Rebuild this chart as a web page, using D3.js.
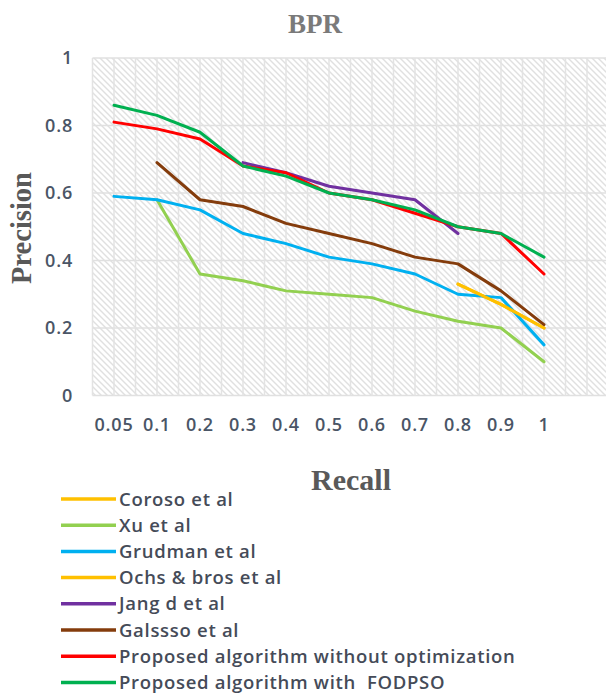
<!DOCTYPE html>
<html><head><meta charset="utf-8">
<script src="https://cdn.jsdelivr.net/npm/d3@7"></script>
<style>body{margin:0;background:#fff}svg{display:block}</style>
</head><body>
<script>
const categories = ["0.05","0.1","0.2","0.3","0.4","0.5","0.6","0.7","0.8","0.9","1"];
const yTicks = [0, 0.2, 0.4, 0.6, 0.8, 1];
const seriesNames = ["Coroso et al","Xu et al","Grudman et al","Ochs & bros et al","Jang d et al","Galssso et al","Proposed algorithm without optimization","Proposed algorithm with  FODPSO"];
const seriesColors = ["#FFC000","#92D050","#00B0F0","#FFC000","#7030A0","#843C0C","#FF0000","#00B050"];
const coroso  = [null,null,null,null,null,null,null,null,0.33,0.27,0.20];
const xu      = [null,0.58,0.36,0.34,0.31,0.30,0.29,0.25,0.22,0.20,0.10];
const grudman = [0.59,0.58,0.55,0.48,0.45,0.41,0.39,0.36,0.30,0.29,0.15];
const ochs    = [null,null,null,null,null,null,null,null,0.33,0.27,0.20];
const jang    = [null,null,null,0.69,0.66,0.62,0.60,0.58,0.48,null,null];
const galssso = [null,0.69,0.58,0.56,0.51,0.48,0.45,0.41,0.39,0.31,0.21];
const propNoOpt = [0.81,0.79,0.76,0.68,0.66,0.60,0.58,0.54,0.50,0.48,0.36];
const propFodpso = [0.86,0.83,0.78,0.68,0.65,0.60,0.58,0.55,0.50,0.48,0.41];
const seriesValues = [coroso, xu, grudman, ochs, jang, galssso, propNoOpt, propFodpso];

(function(){
const W = 606, H = 695;
const svg = d3.select("body").append("svg").attr("width", W).attr("height", H);

const pLeft = 92.5, bandW = 43, pTop = 58, pBottom = 395.5, pRight = 606;
const x = d3.scaleBand().domain(categories).range([pLeft, pLeft + bandW * categories.length]).paddingInner(0).paddingOuter(0);
const y = d3.scaleLinear().domain([0, 1]).range([pBottom, pTop]);

// hatch pattern
const defs = svg.append("defs");
const pat = defs.append("pattern").attr("id","hatch").attr("patternUnits","userSpaceOnUse")
  .attr("width",6).attr("height",6);
pat.append("rect").attr("width",6).attr("height",6).attr("fill","#ffffff");
pat.append("path").attr("d","M-1,-1 L7,7 M-4,2 L2,8 M4,-2 L8,2").attr("stroke","#e0e0e0").attr("stroke-width",1.4);

svg.append("rect").attr("x",pLeft).attr("y",pTop).attr("width",pRight-pLeft).attr("height",pBottom-pTop).attr("fill","url(#hatch)");

// grid lines
const g = svg.append("g");
yTicks.forEach(t => {
  g.append("line").attr("x1",pLeft).attr("x2",pRight).attr("y1",y(t)).attr("y2",y(t))
    .attr("stroke","#e0e0e0").attr("stroke-width",1.5);
});
for (let gx = pLeft; gx <= pRight; gx += bandW/2) {
  g.append("line").attr("x1",gx).attr("x2",gx).attr("y1",pTop).attr("y2",pBottom)
    .attr("stroke","#e3e3e3").attr("stroke-width",1.5);
}

const tickFont = sel => sel.attr("font-family","'Open Sans'").attr("font-weight",600).attr("font-size",18)
  .attr("letter-spacing",0.8).attr("fill","#4a5566");

// y axis labels
const yAxis = d3.axisLeft(y).tickValues(yTicks).tickFormat(d3.format("")).tickSize(0).tickPadding(0);
const ya = svg.append("g").attr("transform","translate(73,0)").call(yAxis);
ya.select(".domain").remove();
ya.selectAll("text").call(tickFont);

// x axis labels
const xAxis = d3.axisBottom(x).tickSize(0).tickPadding(0);
const xa = svg.append("g").attr("transform","translate(0,418)").call(xAxis);
xa.select(".domain").remove();
xa.selectAll("text").call(tickFont);

// lines
const line = d3.line().defined(d => d != null).x((d,i) => x(categories[i]) + x.bandwidth()/2).y(d => y(d));
seriesValues.forEach((vals, si) => {
  svg.append("path").datum(vals).attr("fill","none").attr("stroke",seriesColors[si])
    .attr("stroke-width",3).attr("stroke-linejoin","round").attr("stroke-linecap","round")
    .attr("d", line);
});

// titles
svg.append("text").attr("x",315).attr("y",33).attr("text-anchor","middle")
  .attr("font-family","'Liberation Serif'").attr("font-weight","bold").attr("font-size",27).attr("fill","#7a7a7a").text("BPR");
svg.append("text").attr("transform","translate(31,228) rotate(-90)").attr("text-anchor","middle")
  .attr("font-family","'Liberation Serif'").attr("font-weight","bold").attr("font-size",28.5).attr("fill","#595959").text("Precision");
svg.append("text").attr("x",351).attr("y",490).attr("text-anchor","middle")
  .attr("font-family","'Liberation Serif'").attr("font-weight","bold").attr("font-size",30).attr("fill","#595959").text("Recall");

// legend
const legY0 = 499, legStep = 26.2;
seriesNames.forEach((name, i) => {
  const ly = legY0 + i * legStep;
  svg.append("line").attr("x1",61).attr("x2",116).attr("y1",ly).attr("y2",ly)
    .attr("stroke",seriesColors[i]).attr("stroke-width",3.5);
  svg.append("text").attr("x",119).attr("y",ly+6.5).attr("font-family","'Open Sans'").attr("font-size",18.5)
    .attr("font-weight",600).attr("letter-spacing",0.7)
    .attr("fill","#454b58").style("white-space","pre").text(name);
});
})();
</script>
</body></html>
